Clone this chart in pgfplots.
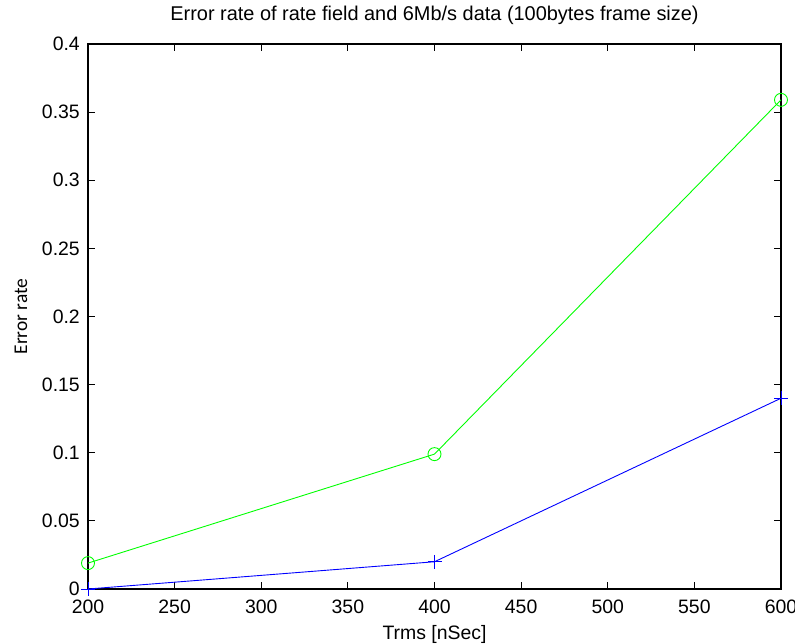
\documentclass[border=0pt]{standalone}
\usepackage{pgfplots}
\pgfplotsset{compat=1.18}
\usepackage{fontspec}
\setmainfont{Liberation Sans}
\newfontfamily\carlito{Carlito}
\begin{document}
\begin{tikzpicture}[x=1bp,y=1bp]
\useasboundingbox (-88bp,-55bp) rectangle (707bp,589bp);
\begin{axis}[
  scale only axis,
  width=693bp, height=545bp,
  at={(0,0)}, anchor=south west,
  xmin=200, xmax=600, ymin=0, ymax=0.4,
  xtick={200,250,...,600},
  ytick={0,0.05,...,0.4},
  yticklabels={0,0.05,0.1,0.15,0.2,0.25,0.3,0.35,0.4},
  scaled y ticks=false,
  tick align=inside,
  major tick length=7bp,
  axis line style={line width=1.2pt},
  every tick/.style={black, line width=0.8pt},
  /pgf/number format/assume math mode=true,
  tick label style={font=\fontsize{19.5}{21}\selectfont, inner sep=0pt},
  xticklabel style={anchor=north, yshift=-11bp},
  yticklabel style={anchor=east, xshift=-8bp},
  title={Error rate of rate field and 6Mb/s data (100bytes frame size)},
  title style={font=\fontsize{20}{22}\selectfont, at={(axis description cs:0.5,1)}, anchor=center, yshift=23bp, inner sep=0pt},
  xlabel={Trms [nSec]},
  xlabel style={font=\fontsize{19.5}{21}\selectfont, at={(axis description cs:0.5,0)}, anchor=center, yshift=-45bp, inner sep=0pt},
  ylabel={Error rate},
  ylabel style={font=\carlito\fontsize{19.5}{21}\selectfont, at={(axis description cs:0,0.5)}, anchor=center, yshift=67bp, inner sep=0pt},
  clip=false,
]
\addplot[color=green, line width=0.9pt, mark=o, mark size=6.5bp, mark options={line width=0.9pt}]
  coordinates {(200,0.019) (400,0.099) (600,0.359)};
\addplot[color=blue, line width=0.9pt, mark=+, mark size=7bp, mark options={line width=0.9pt}]
  coordinates {(200,0) (400,0.02) (600,0.14)};
\end{axis}
\end{tikzpicture}
\end{document}
